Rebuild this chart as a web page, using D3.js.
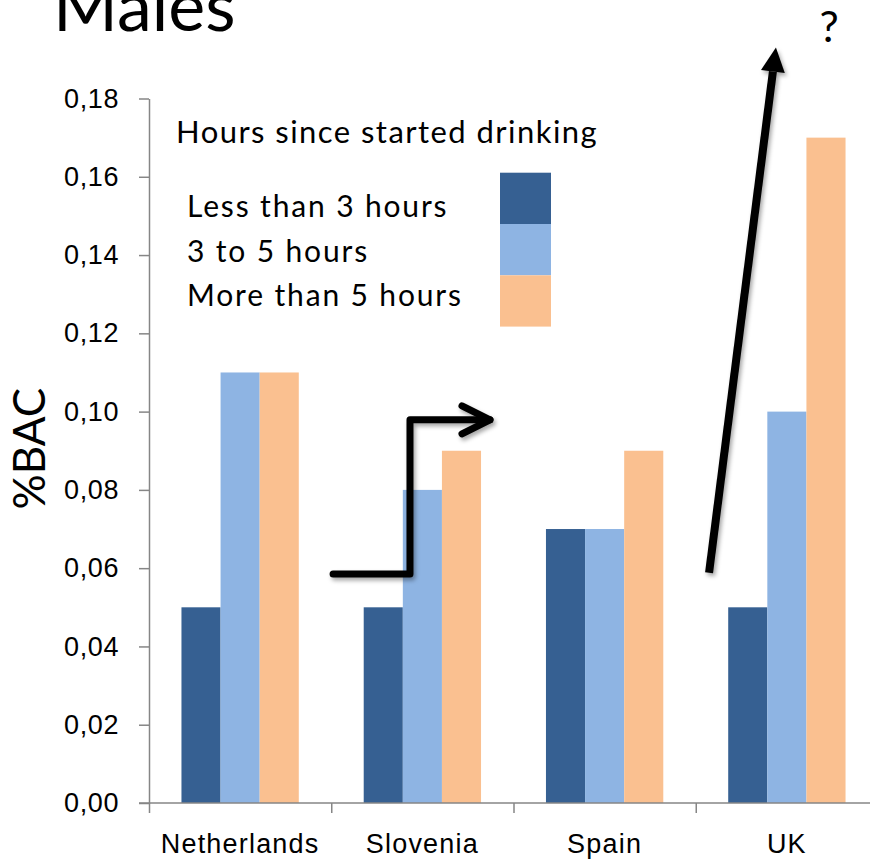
<!DOCTYPE html>
<meta charset="utf-8">
<style>
body { margin: 0; background: #fff; font-family: Lato, sans-serif; }
.axis path, .axis line { fill: none; stroke: #868686; stroke-width: 1.5; }
.axis text { fill: #000; }
</style>
<body>
<svg width="870" height="859"></svg>
<script src="https://d3js.org/d3.v7.min.js"></script>
<script>

// data
var countries = ["Netherlands", "Slovenia", "Spain", "UK"];
var seriesNames = ["Less than 3 hours", "3 to 5 hours", "More than 5 hours"];
var lessThan3 = [0.05, 0.05, 0.07, 0.05];
var from3to5 = [0.11, 0.08, 0.07, 0.10];
var moreThan5 = [0.11, 0.09, 0.09, 0.17];
var yTicks = [0, 0.02, 0.04, 0.06, 0.08, 0.10, 0.12, 0.14, 0.16, 0.18];
var colors = ["#366092", "#8eb4e3", "#fac090"];

// annotation arrows, in (category position, %BAC) units
var stepArrow = [[1.01, 0.0585], [1.432, 0.0585], [1.432, 0.0979], [1.871, 0.0979]];
var upArrow = [[3.073, 0.0588], [3.44, 0.193]];

var series = [lessThan3, from3to5, moreThan5];

var svg = d3.select("svg"),
    margin = {left: 149, top: 98.5, bottom: 803},
    bandStep = 182.25;

var y = d3.scaleLinear().domain([0, 0.18]).range([margin.bottom, margin.top]);
var x = d3.scaleBand().domain(countries)
    .range([margin.left, margin.left + bandStep * countries.length])
    .paddingInner(0).paddingOuter(0);
var xPos = d3.scaleLinear().domain([0, countries.length])
    .range([margin.left, margin.left + bandStep * countries.length]);
var sub = d3.scaleBand().domain(d3.range(series.length))
    .range([0, x.bandwidth()]).paddingOuter(0.83).paddingInner(0);

// title, cut off at the top like the original
svg.append("text")
    .attr("x", 53).attr("y", 31)
    .style("font-size", "70px")
    .text("Males");

// bars
var rows = [];
countries.forEach(function (c, i) {
    series.forEach(function (s, j) {
        rows.push({country: c, s: j, value: s[i]});
    });
});

svg.append("g").selectAll("rect")
    .data(rows)
    .enter().append("rect")
    .attr("x", function (d) { return x(d.country) + sub(d.s); })
    .attr("y", function (d) { return y(d.value); })
    .attr("width", sub.bandwidth())
    .attr("height", function (d) { return y(0) - y(d.value); })
    .attr("fill", function (d) { return colors[d.s]; });

// y axis
var yAxis = svg.append("g")
    .attr("class", "axis")
    .attr("transform", "translate(" + margin.left + ",0)")
    .call(d3.axisLeft(y).tickValues(yTicks).tickSize(10).tickSizeOuter(0).tickPadding(20)
        .tickFormat(function (d) { return d3.format(".2f")(d).replace(".", ","); }));
yAxis.selectAll("text").style("font-size", "27px").style("letter-spacing", "0.6px");

// x axis: boundary ticks + category labels
var xAxis = svg.append("g")
    .attr("class", "axis")
    .attr("transform", "translate(0," + y(0) + ")");
xAxis.call(d3.axisBottom(xPos).ticks(4).tickSize(10).tickSizeOuter(0).tickFormat(""));
xAxis.select(".domain").attr("d", "M" + (margin.left - 10) + ",0H" + xPos(4));
xAxis.selectAll(".lbl")
    .data(countries)
    .enter().append("text")
    .attr("class", "lbl")
    .attr("x", function (d) { return x(d) + x.bandwidth() / 2; })
    .attr("y", 50)
    .attr("text-anchor", "middle")
    .style("font-size", "27px")
    .style("letter-spacing", "1.2px")
    .text(function (d) { return d; });

// y label
svg.append("text")
    .attr("transform", "translate(45," + y(0.0905) + ") rotate(-90)")
    .attr("text-anchor", "middle")
    .style("font-size", "44px")
    .text("%BAC");

// legend
var legend = svg.append("g");
legend.append("text")
    .attr("x", 176).attr("y", 143)
    .style("font-size", "31px")
    .style("letter-spacing", "1.45px")
    .text("Hours since started drinking");
seriesNames.forEach(function (name, j) {
    legend.append("text")
        .attr("x", 187).attr("y", 217 + j * 44.5)
        .style("font-size", "30px")
        .style("letter-spacing", "1.85px")
        .text(name);
    legend.append("rect")
        .attr("x", 500).attr("y", 172.7 + j * 51.3)
        .attr("width", 51).attr("height", 51.3)
        .attr("fill", colors[j]);
});

// arrows with a soft shadow
var defs = svg.append("defs");
defs.append("filter").attr("id", "shadow")
    .attr("x", "-50%").attr("y", "-50%").attr("width", "200%").attr("height", "200%")
    .append("feDropShadow")
    .attr("dx", 2).attr("dy", 3).attr("stdDeviation", 2)
    .attr("flood-color", "#000").attr("flood-opacity", 0.35);

var line = d3.line()
    .x(function (d) { return xPos(d[0]); })
    .y(function (d) { return y(d[1]); });

var ann = svg.append("g").attr("filter", "url(#shadow)");
ann.append("path")
    .attr("d", line(stepArrow))
    .attr("fill", "none").attr("stroke", "#000")
    .attr("stroke-width", 7).attr("stroke-linejoin", "round").attr("stroke-linecap", "round");

// open chevron at the end of the step arrow
var tip = stepArrow[stepArrow.length - 1];
var tx = xPos(tip[0]), ty = y(tip[1]);
ann.append("path")
    .attr("d", "M" + (tx - 28) + "," + (ty - 14) + "L" + tx + "," + ty + "L" + (tx - 28) + "," + (ty + 14))
    .attr("fill", "none").attr("stroke", "#000")
    .attr("stroke-width", 7).attr("stroke-linejoin", "round").attr("stroke-linecap", "round");

// straight arrow with filled head
var p0 = [xPos(upArrow[0][0]), y(upArrow[0][1])],
    p1 = [xPos(upArrow[1][0]), y(upArrow[1][1])];
var dx = p1[0] - p0[0], dy = p1[1] - p0[1], len = Math.sqrt(dx * dx + dy * dy);
var ux = dx / len, uy = dy / len, headLen = 24, headW = 12;
var bx = p1[0] - ux * headLen, by = p1[1] - uy * headLen;
ann.append("line")
    .attr("x1", p0[0]).attr("y1", p0[1]).attr("x2", bx).attr("y2", by)
    .attr("stroke", "#000").attr("stroke-width", 8);
ann.append("path")
    .attr("d", "M" + p1[0] + "," + p1[1] +
        "L" + (bx - uy * headW) + "," + (by + ux * headW) +
        "L" + (bx + uy * headW) + "," + (by - ux * headW) + "Z")
    .attr("fill", "#000");

svg.append("text")
    .attr("x", 829).attr("y", 42)
    .attr("text-anchor", "middle")
    .style("font-size", "43px")
    .text("?");

</script>
</body>
</html>
